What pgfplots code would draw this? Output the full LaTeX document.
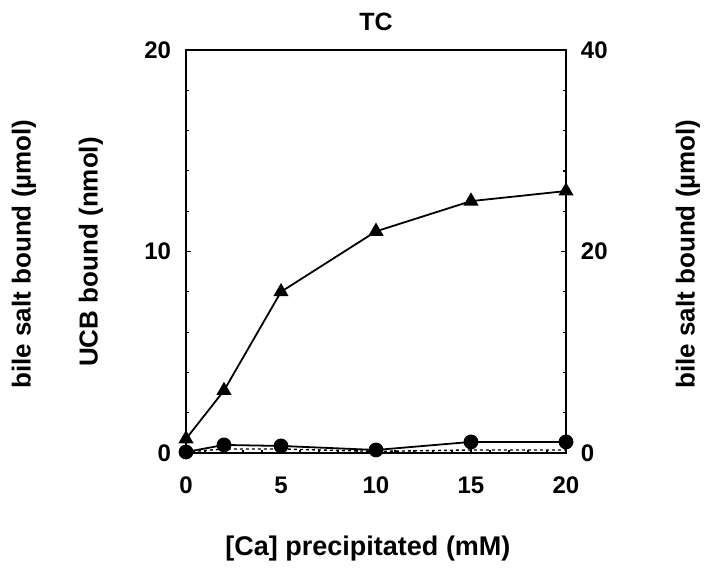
\documentclass[border=0pt]{standalone}
\usepackage{pgfplots}
\pgfplotsset{compat=1.18}
\usepackage{fontspec}
\setmainfont{Liberation Sans}
\begin{document}
\begin{tikzpicture}[x=1pt,y=1pt]
\useasboundingbox (-186,-118) rectangle (518,453);
\pgfplotsset{
  every axis/.append style={
    scale only axis, width=380pt, height=403pt,
    xmin=0, xmax=20,
    line width=1.3pt,
    tick style={line width=1.2pt, black},
    major tick length=5pt, minor tick length=3pt,
    tick label style={font=\bfseries\fontsize{24}{24}\selectfont},
    /pgf/number format/assume math mode=true,
  }
}
\begin{axis}[at={(0,0)}, anchor=south west,
  ymin=0, ymax=20,
  xtick={0,5,10,15,20}, ytick={0,10,20},
  minor y tick num=4, minor x tick num=4,
  xtick pos=bottom, ytick pos=left,
  xticklabel style={yshift=-20pt},
  yticklabel style={xshift=-11pt},
]
\addplot[black, line width=1.4pt, dashed, mark=none] coordinates {
(0,0.05) (2,0.2) (5,0.2) (10,0.08) (15,0.15) (20,0.15)};
\addplot[black, line width=1.8pt, mark=*, mark size=6.5pt] coordinates {
(0,0.05) (2,0.4) (5,0.35) (10,0.15) (15,0.55) (20,0.55)};
\addplot[black, line width=1.8pt, mark=triangle*, mark size=7pt] coordinates {
(0,0.7) (2,3.1) (5,8.0) (10,11.0) (15,12.5) (20,13.0)};
\end{axis}
\begin{axis}[at={(0,0)}, anchor=south west,
  ymin=0, ymax=40,
  ytick={0,20,40}, minor y tick num=4,
  axis x line=none, axis y line*=right,
  yticklabel style={xshift=11pt},
]
\end{axis}
\node[font=\bfseries\fontsize{25}{25}\selectfont] at (190,431) {TC};
\node[font=\bfseries\fontsize{27}{27}\selectfont] at (182,-96) {[Ca] precipitated (mM)};
\node[font=\bfseries\fontsize{26}{26}\selectfont, rotate=90] at (-162,199) {bile salt bound (µmol)};
\node[font=\bfseries\fontsize{26}{26}\selectfont, rotate=90] at (-95,201) {UCB bound (nmol)};
\node[font=\bfseries\fontsize{26}{26}\selectfont, rotate=90] at (502,199) {bile salt bound (µmol)};
\end{tikzpicture}
\end{document}
